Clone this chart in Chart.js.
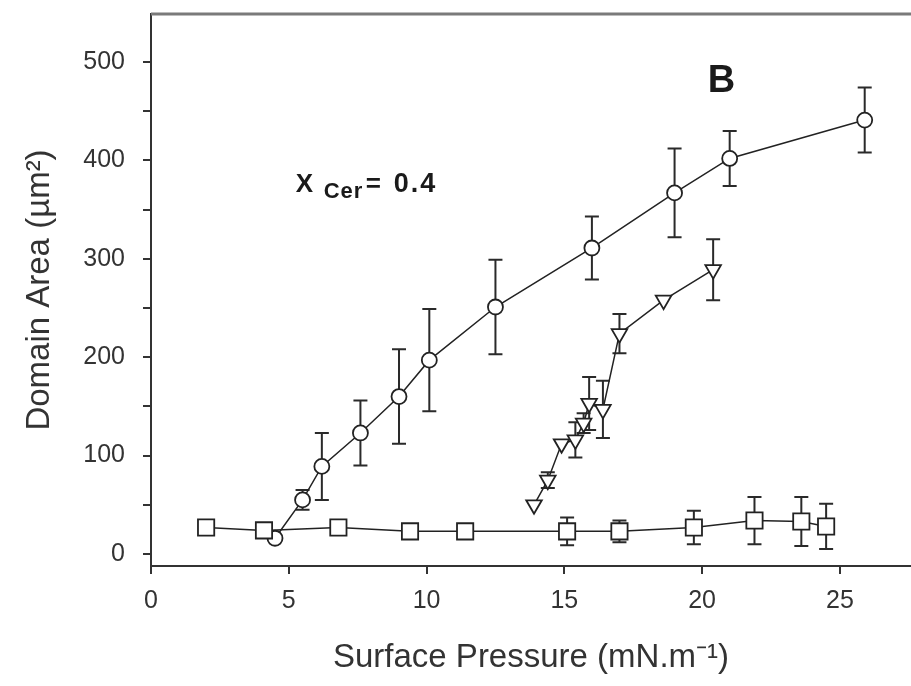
<!DOCTYPE html>
<html>
<head>
<meta charset="utf-8">
<script src="https://cdn.jsdelivr.net/npm/chart.js@4/dist/chart.umd.min.js"></script>
<style>
  html, body { margin: 0; padding: 0; background: #fff; }
  #wrap { width: 911px; height: 686px; }
</style>
</head>
<body>
<div id="wrap"><canvas id="chart" width="911" height="686"></canvas></div>
<script>
// Surface pressure (mN/m) vs domain area (um^2), X Cer = 0.4

// squares
const squareX = [2.0, 4.1, 6.8, 9.4, 11.4, 15.1, 17.0, 19.7, 21.9, 23.6, 24.5];
const squareY = [27, 24, 27, 23, 23, 23, 23, 27, 34, 33, 28];
const squareErr = [0, 0, 3, 4, 3, 14, 11, 17, 24, 25, 23];

// circles
const circleX = [4.5, 5.5, 6.2, 7.6, 9.0, 10.1, 12.5, 16.0, 19.0, 21.0, 25.9];
const circleY = [16, 55, 89, 123, 160, 197, 251, 311, 367, 402, 441];
const circleErr = [0, 10, 34, 33, 48, 52, 48, 32, 45, 28, 33];

// inverted triangles
const triX = [13.9, 14.4, 14.9, 15.4, 15.7, 15.9, 16.4, 17.0, 18.6, 20.4];
const triY = [50, 75, 112, 116, 133, 153, 147, 224, 258, 289];
const triErr = [0, 8, 0, 18, 10, 27, 29, 20, 0, 31];

// axes
const xTicks = [0, 5, 10, 15, 20, 25];
const yTicks = [0, 100, 200, 300, 400, 500];

const toPoints = (xs, ys) => xs.map((x, i) => ({ x: x, y: ys[i] }));

const inkColor = '#222';
const textColor = '#333';
const fontFamily = "'Liberation Sans', Arial, sans-serif";

// error bars drawn under the hollow markers
const errorBarPlugin = {
    id: 'errorBars',
    beforeDatasetsDraw(chart) {
        const ctx = chart.ctx;
        const xs = chart.scales.x;
        const ys = chart.scales.y;
        ctx.save();
        ctx.strokeStyle = '#2a2a2a';
        ctx.lineWidth = 2;
        chart.data.datasets.forEach(ds => {
            ds.data.forEach((p, i) => {
                const e = ds.errors[i];
                if (!e) return;
                const px = xs.getPixelForValue(p.x);
                const top = ys.getPixelForValue(p.y + e);
                const bot = ys.getPixelForValue(p.y - e);
                ctx.beginPath();
                ctx.moveTo(px, top);
                ctx.lineTo(px, bot);
                ctx.moveTo(px - 7, top);
                ctx.lineTo(px + 7, top);
                ctx.moveTo(px - 7, bot);
                ctx.lineTo(px + 7, bot);
                ctx.stroke();
            });
        });
        ctx.restore();
    }
};

// top frame line and text labels
const annotationPlugin = {
    id: 'annotations',
    afterDraw(chart) {
        const ctx = chart.ctx;
        const area = chart.chartArea;
        const xs = chart.scales.x;
        const ys = chart.scales.y;
        ctx.save();
        ctx.strokeStyle = '#7a7a7a';
        ctx.lineWidth = 3;
        ctx.beginPath();
        ctx.moveTo(area.left, area.top);
        ctx.lineTo(area.right, area.top);
        ctx.stroke();

        ctx.fillStyle = '#1a1a1a';
        ctx.textBaseline = 'alphabetic';
        ctx.textAlign = 'left';

        // "X Cer = 0.4"
        const x0 = xs.getPixelForValue(5.25);
        const base = ys.getPixelForValue(368);
        ctx.font = 'bold 26px ' + fontFamily;
        ctx.fillText('X', x0, base);
        ctx.font = 'bold 22px ' + fontFamily;
        ctx.letterSpacing = '1px';
        ctx.fillText('Cer', x0 + 28, base + 6);
        ctx.font = 'bold 26px ' + fontFamily;
        ctx.letterSpacing = '0px';
        ctx.fillText('=', x0 + 70, base);
        ctx.font = 'bold 27px ' + fontFamily;
        ctx.letterSpacing = '2px';
        ctx.fillText('0.4', x0 + 98, base);
        ctx.letterSpacing = '0px';

        // panel letter
        ctx.font = 'bold 38px ' + fontFamily;
        ctx.textAlign = 'center';
        ctx.fillText('B', xs.getPixelForValue(20.7), ys.getPixelForValue(470));
        ctx.restore();
    }
};

const lineDefaults = {
    borderColor: inkColor,
    borderWidth: 1.5,
    pointBackgroundColor: '#fff',
    pointBorderColor: inkColor,
    pointBorderWidth: 1.8,
    fill: false,
    tension: 0
};

new Chart(document.getElementById('chart'), {
    type: 'line',
    data: {
        datasets: [
            {
                ...lineDefaults,
                label: 'squares',
                data: toPoints(squareX, squareY),
                errors: squareErr,
                pointStyle: 'rect',
                pointRadius: 11.5
            },
            {
                ...lineDefaults,
                label: 'triangles',
                data: toPoints(triX, triY),
                errors: triErr,
                pointStyle: 'triangle',
                pointRotation: 180,
                pointRadius: 9
            },
            {
                ...lineDefaults,
                label: 'circles',
                data: toPoints(circleX, circleY),
                errors: circleErr,
                pointStyle: 'circle',
                pointRadius: 7.5
            }
        ]
    },
    options: {
        responsive: false,
        animation: false,
        devicePixelRatio: 1,
        layout: {
            autoPadding: false,
            padding: { top: 14, right: 0, left: 0, bottom: 0 }
        },
        plugins: {
            legend: { display: false },
            tooltip: { enabled: false }
        },
        scales: {
            x: {
                type: 'linear',
                min: 0,
                max: 27.58,
                afterFit(scale) {
                    scale.height = 120;
                    scale.paddingLeft = 0;
                    scale.paddingRight = 0;
                },
                border: { color: '#333', width: 2 },
                grid: {
                    drawOnChartArea: false,
                    drawTicks: true,
                    tickLength: 8,
                    color: '#333',
                    lineWidth: 2
                },
                ticks: {
                    stepSize: 5,
                    includeBounds: false,
                    autoSkip: false,
                    maxRotation: 0,
                    padding: 12,
                    color: textColor,
                    font: { family: fontFamily, size: 25 },
                    callback: v => xTicks.includes(v) ? String(v) : ''
                },
                title: {
                    display: true,
                    text: 'Surface Pressure (mN.m⁻¹)',
                    color: textColor,
                    font: { family: fontFamily, size: 33 },
                    padding: { top: 0, bottom: 8 }
                }
            },
            y: {
                type: 'linear',
                min: -12.2,
                max: 548.8,
                afterFit(scale) {
                    scale.width = 151;
                    scale.paddingTop = 0;
                    scale.paddingBottom = 0;
                },
                border: { color: '#333', width: 2 },
                grid: {
                    drawOnChartArea: false,
                    drawTicks: true,
                    tickLength: 8,
                    color: '#333',
                    lineWidth: 2
                },
                ticks: {
                    stepSize: 50,
                    includeBounds: false,
                    autoSkip: false,
                    padding: 18,
                    color: textColor,
                    font: { family: fontFamily, size: 25 },
                    callback: v => yTicks.includes(v) ? String(v) : ''
                },
                title: {
                    display: true,
                    text: 'Domain Area (µm²)',
                    color: textColor,
                    font: { family: fontFamily, size: 33 },
                    padding: { top: 20, bottom: 0 }
                }
            }
        }
    },
    plugins: [errorBarPlugin, annotationPlugin]
});
</script>
</body>
</html>
